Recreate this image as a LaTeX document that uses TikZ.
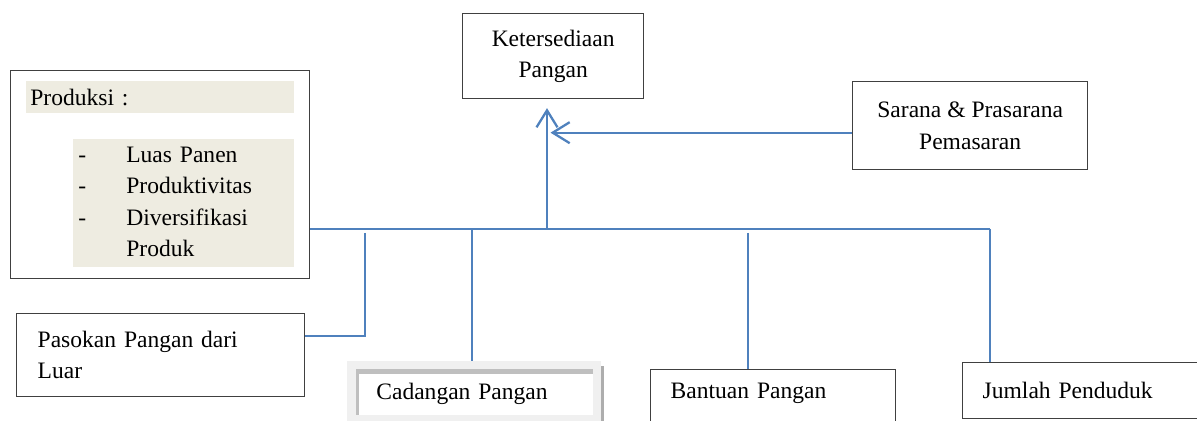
\documentclass[tikz,border=0pt]{standalone}
\usepackage{fontspec}
\setmainfont{Liberation Serif}
\usetikzlibrary{positioning, calc, arrows.meta}
\definecolor{linkblue}{HTML}{4F81BD}
\definecolor{softbeige}{HTML}{EEECE1}
\definecolor{framegray}{HTML}{404040}

\begin{document}
\begin{tikzpicture}[
		x=0.02cm, y=-0.02cm,
		font=\fontsize{13.4}{17.9}\selectfont,
		box/.style={draw=framegray, line width=0.8pt, fill=white, anchor=north west, inner sep=0pt},
		shade/.style={fill=softbeige, anchor=north west, inner ysep=0pt},
		flow/.style={draw=linkblue, line width=1.3pt},
		tip/.style={-{Straight Barb[length=0.34cm, width=0.42cm, line width=1.3pt]}}
		]
		
		\fill[white] (0,0) rectangle (1197,421);
		\useasboundingbox (0,0) rectangle (1197,421);
		
		% ==========================================
		% Upper boxes
		% ==========================================
		
		\node[box, minimum width=3.62cm, minimum height=1.70cm, align=center] (ket) at (462,13) {Ketersediaan\\Pangan};
		\node[box, minimum width=4.70cm, minimum height=1.76cm, align=center] (sarana) at (852,81) {Sarana \& Prasarana\\Pemasaran};
		
		% Produksi with its shaded strips
		\node[box, minimum width=5.98cm, minimum height=4.16cm] (prod) at (10,70) {};
		\node[shade, inner xsep=0.08cm, text width=5.2cm, minimum height=0.64cm, align=left] (prodhead) at (26,81) {Produksi :};
		\node[shade, inner xsep=0.1cm, text width=4.22cm, minimum height=2.56cm, align=left] (prodlist) at (73,139) {%
			\begin{tabular}{@{}p{0.96cm}@{}l@{}}
				- & Luas Panen\\
				- & Produktivitas\\
				- & Diversifikasi\\
				  & Produk
			\end{tabular}};
		
		% ==========================================
		% Lower boxes
		% ==========================================
		
		\node[box, minimum width=5.76cm, minimum height=1.66cm, inner xsep=0.42cm, text width=4.92cm, align=left] (pasokan) at (16,313) {Pasokan Pangan dari\\Luar};
		
		% Cadangan sits in a grey frame
		\node[fill=black!6, anchor=north west, minimum width=5.08cm, minimum height=1.4cm] (cadangan) at (347,361) {};
		\node[fill=white, anchor=north west, inner ysep=0pt, minimum width=4.7cm, minimum height=0.84cm, inner xsep=0.36cm, text width=3.98cm, align=left] (cadin) at (358,373) {Cadangan Pangan};
		\fill[black!25] (356,369) rectangle (593,374);
		\fill[black!25] (356,369) rectangle (359,415);
		\fill[black!32] (601,366) rectangle (604,421);
		
		\node[box, minimum width=4.9cm, inner xsep=0.4cm, text height=0.58cm, text depth=1cm, text width=4.1cm, align=left] (bantuan) at (650,369) {Bantuan Pangan};
		\node[box, minimum width=4.7cm, minimum height=1.12cm, inner xsep=0.4cm, text width=3.9cm, align=left] (jumlah) at (962,362) {Jumlah Penduduk};
		
		% ==========================================
		% Connectors
		% ==========================================
		
		\coordinate (hub) at (547,229);
		\coordinate (jend) at (990,229);
		\coordinate (ptop) at (365,233);
		\coordinate (btop) at (748,233);
		\coordinate (ctop) at (472,229);
		\coordinate (sin) at ($(sarana.west)+(0,7)$);
		\coordinate (pin) at ($(pasokan.east)+(0,-19)$);
		
		\draw[flow] (prod.east |- hub) -- (jend);
		\draw[flow, tip, shorten >=5pt] (hub) -- (hub |- ket.south);
		\draw[flow, tip, shorten >=2pt] (sin) -- (sin -| hub);
		
		\draw[flow] (ptop) |- (pin);
		\draw[flow] (ctop) -- (ctop |- cadangan.north);
		\draw[flow] (btop) -- (btop |- bantuan.north);
		\draw[flow] (jend) -- (jend |- jumlah.north);
		
	\end{tikzpicture}
\end{document}
